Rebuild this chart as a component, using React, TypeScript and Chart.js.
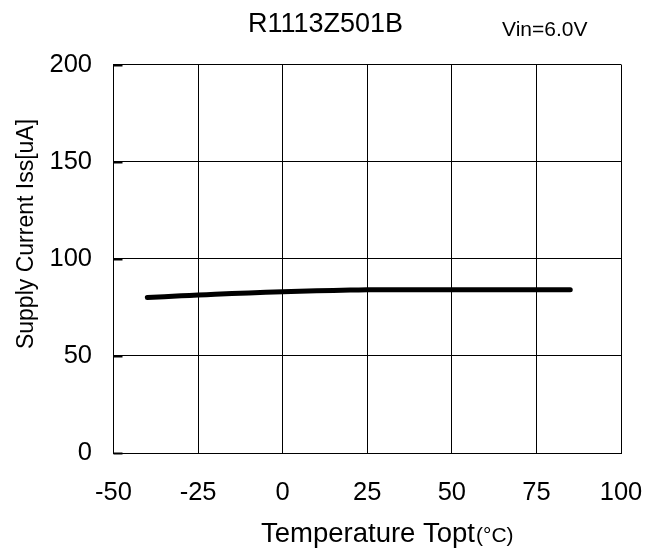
import React, { useEffect, useRef } from "react";
import { Chart, registerables } from "chart.js";

Chart.register(...registerables);

const temperatures = [-40, -30, -25, -20, -10, 0, 10, 20, 25, 50, 75, 85];
const supplyCurrent = [80.0, 80.9, 81.3, 81.7, 82.4, 83.0, 83.5, 83.9, 84.0, 84.0, 84.0, 84.0];
const xTicks = [-50, -25, 0, 25, 50, 75, 100];
const yTicks = [0, 50, 100, 150, 200];

const chartTitle = "R1113Z501B";
const conditionLabel = "Vin=6.0V";
const xTitleMain = "Temperature Topt";
const xTitleUnit = "(°C)";
const yTitle = "Supply Current Iss[uA]";

const FONT = "'Liberation Sans', Arial, sans-serif";

const textPlugin = {
  id: "customText",
  afterDraw(chart: any) {
    const ctx = chart.ctx;
    const area = chart.chartArea;
    const yScale = chart.scales.y;
    ctx.save();
    // inner tick marks on the y axis
    ctx.strokeStyle = "#000";
    ctx.lineWidth = 2;
    yTicks.forEach((v) => {
      const py = Math.round(yScale.getPixelForValue(v)) + 0.5;
      ctx.beginPath();
      ctx.moveTo(area.left, py);
      ctx.lineTo(area.left + 9, py);
      ctx.stroke();
    });
    ctx.fillStyle = "#000";
    // title
    ctx.font = `27px ${FONT}`;
    ctx.textAlign = "center";
    ctx.textBaseline = "alphabetic";
    ctx.fillText(chartTitle, 325.5, 32);
    // condition label
    ctx.font = `21px ${FONT}`;
    ctx.textAlign = "left";
    ctx.fillText(conditionLabel, 502, 35.5);
    // x title
    ctx.font = `27.5px ${FONT}`;
    ctx.textAlign = "left";
    const x0 = 261;
    ctx.fillText(xTitleMain, x0, 541.5);
    const w = ctx.measureText(xTitleMain).width;
    ctx.font = `21px ${FONT}`;
    ctx.fillText(xTitleUnit, x0 + w + 1, 541.5);
    // y title
    ctx.font = `23px ${FONT}`;
    ctx.translate(27, 234);
    ctx.rotate(-Math.PI / 2);
    ctx.textAlign = "center";
    ctx.textBaseline = "middle";
    ctx.fillText(yTitle, 0, 0);
    ctx.restore();
  },
};

export default function App() {
  const canvasRef = useRef<HTMLCanvasElement>(null);

  useEffect(() => {
    const canvas = canvasRef.current;
    if (!canvas) return;
    const chart = new Chart(canvas, {
      type: "line",
      data: {
        datasets: [
          {
            data: temperatures.map((t, i) => ({ x: t, y: supplyCurrent[i] })),
            borderColor: "#000",
            borderWidth: 5,
            pointRadius: 0,
            tension: 0.3,
            borderCapStyle: "round",
            borderJoinStyle: "round",
            fill: false,
          },
        ],
      },
      options: {
        animation: false,
        responsive: false,
        maintainAspectRatio: false,
        devicePixelRatio: 1,
        layout: { padding: { left: 0, top: 64.5, right: 43, bottom: 0 } },
        plugins: {
          legend: { display: false },
          tooltip: { enabled: false },
          title: { display: false },
        },
        scales: {
          x: {
            type: "linear",
            min: -50,
            max: 100,
            afterBuildTicks: (scale: any) => {
              scale.ticks = xTicks.map((v) => ({ value: v }));
            },
            afterFit: (scale: any) => {
              scale.height = 97;
              scale.paddingLeft = 0;
              scale.paddingRight = 0;
            },
            grid: { color: "#000", lineWidth: 1, drawTicks: false },
            border: { color: "#000", width: 1 },
            ticks: {
              color: "#000",
              font: { family: FONT, size: 25.5 },
              padding: 25,
              maxRotation: 0,
              autoSkip: false,
            },
          },
          y: {
            type: "linear",
            min: 0,
            max: 200,
            afterBuildTicks: (scale: any) => {
              scale.ticks = yTicks.map((v) => ({ value: v }));
            },
            afterFit: (scale: any) => {
              scale.width = 113.5;
              scale.paddingTop = 0;
              scale.paddingBottom = 0;
            },
            grid: { color: "#000", lineWidth: 1, drawTicks: false },
            border: { color: "#000", width: 1 },
            ticks: {
              color: "#000",
              font: { family: FONT, size: 25.5 },
              padding: 21.5,
              autoSkip: false,
            },
          },
        },
      },
      plugins: [textPlugin],
    } as any);
    return () => chart.destroy();
  }, []);

  return (
    <div style={{ position: "fixed", left: 0, top: 0, width: 664, height: 550, background: "#fff" }}>
      <canvas ref={canvasRef} width={664} height={550} style={{ width: 664, height: 550, display: "block" }} />
    </div>
  );
}
